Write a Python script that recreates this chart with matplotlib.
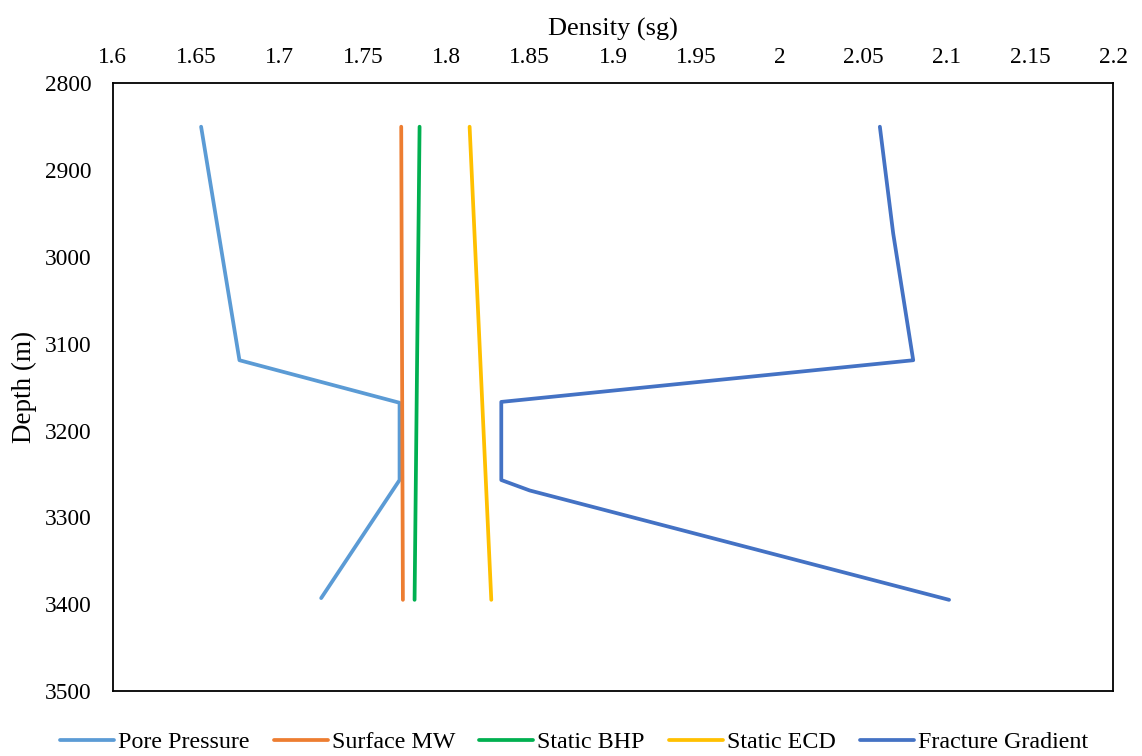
import matplotlib.pyplot as plt

plt.rcParams['font.family'] = ['Liberation Serif', 'DejaVu Serif']

# depth (m) and density (sg)
pore_depth = [2850, 3119, 3168, 3257, 3393]
pore_sg = [1.653, 1.676, 1.772, 1.772, 1.725]

mw_depth = [2850, 3395]
mw_sg = [1.773, 1.774]

bhp_depth = [2850, 3395]
bhp_sg = [1.784, 1.781]

ecd_depth = [2850, 3395]
ecd_sg = [1.814, 1.827]

frac_depth = [2850, 2973, 3119, 3167, 3257, 3269, 3395]
frac_sg = [2.060, 2.068, 2.080, 1.833, 1.833, 1.850, 2.1015]

x_ticks = [1.6, 1.65, 1.7, 1.75, 1.8, 1.85, 1.9, 1.95, 2.0, 2.05, 2.1, 2.15, 2.2]
x_ticklabels = ['1.6', '1.65', '1.7', '1.75', '1.8', '1.85', '1.9', '1.95', '2', '2.05', '2.1', '2.15', '2.2']
y_ticks = [2800, 2900, 3000, 3100, 3200, 3300, 3400, 3500]

fig = plt.figure(figsize=(11.42, 7.56), dpi=100)
ax = fig.add_axes([0.0987, 0.086, 0.8762, 0.8038])

lw = 2.7
ax.plot(pore_sg, pore_depth, color='#5B9BD5', lw=lw, label='Pore Pressure', solid_capstyle='round')
ax.plot(mw_sg, mw_depth, color='#ED7D31', lw=lw, label='Surface MW', solid_capstyle='round')
ax.plot(bhp_sg, bhp_depth, color='#00B050', lw=lw, label='Static BHP', solid_capstyle='round')
ax.plot(ecd_sg, ecd_depth, color='#FFC000', lw=lw, label='Static ECD', solid_capstyle='round')
ax.plot(frac_sg, frac_depth, color='#4472C4', lw=lw, label='Fracture Gradient', solid_capstyle='round')

ax.set_xlim(1.6, 2.2)
ax.set_ylim(3500, 2800)
ax.xaxis.tick_top()
ax.xaxis.set_label_position('top')
ax.set_xticks(x_ticks)
ax.set_xticklabels(x_ticklabels)
ax.set_yticks(y_ticks)
ax.tick_params(axis='x', length=0, pad=11, labelsize=16.8)
ax.tick_params(axis='y', length=0, pad=15, labelsize=16.8)
for s in ax.spines.values():
    s.set_linewidth(1.3)

ax.set_xlabel('Density (sg)', fontsize=19, labelpad=8)
ax.set_ylabel('Depth (m)', fontsize=19.5, labelpad=6)

ax.legend(loc='center', bbox_to_anchor=(0.461, -0.084), ncol=5, frameon=False,
          fontsize=17.3, handlelength=2.25, handletextpad=0.17, columnspacing=1.0,
          borderaxespad=0)

fig.savefig('out.png', dpi=100)
